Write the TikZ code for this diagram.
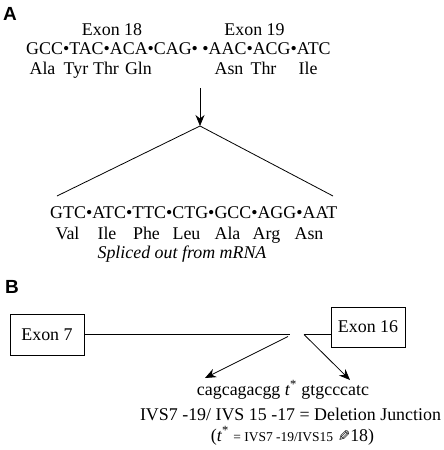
\documentclass[tikz,border=0pt]{standalone}
\usepackage{fontspec}
\usepackage{graphicx}
\setmainfont{Liberation Serif}
\newfontfamily\labfont{Liberation Sans}
\newfontfamily\symfont{DejaVu Sans}
\usetikzlibrary{arrows.meta}
\begin{document}
\begin{tikzpicture}[x=1pt,y=-1pt,
  txt/.style={inner sep=0pt,anchor=base,font=\fontsize{17.9}{20}\selectfont},
  lab/.style={inner sep=0pt,anchor=base west,font=\labfont\bfseries\fontsize{19}{21}\selectfont},
  exonbox/.style={draw,line width=0.8pt,minimum width=74pt,inner sep=0pt,font=\fontsize{17.9}{20}\selectfont},
  ln/.style={line width=0.8pt},
  arr/.style={line width=0.8pt,-{Stealth[length=11pt,width=9pt]}}]
\useasboundingbox (0,0) rectangle (444,450);
% Panel A
\node[lab] (A) at (3,20) {A};
\node[txt] (ex18) at (112,35) {Exon 18};
\node[txt] (ex19) at (254.5,35) {Exon 19};
\node[txt,anchor=base west] (seq1) at (26,54) {GCC•TAC•ACA•CAG• •AAC•ACG•ATC};
\node[txt] (a1) at (42.5,74) {Ala};
\node[txt] (a2) at (76,74) {Tyr};
\node[txt] (a3) at (106,74) {Thr};
\node[txt] (a4) at (138.5,74) {Gln};
\node[txt] (a5) at (229,74) {Asn};
\node[txt] (a6) at (263.5,74) {Thr};
\node[txt] (a7) at (308,74) {Ile};
\coordinate (vtop) at (200,88);
\coordinate (apex) at (200,126);
\coordinate (lft) at (57,196);
\coordinate (rgt) at (333,196);
\draw[arr] (vtop) -- (apex);
\draw[ln] (lft) -- (apex) -- (rgt);
\node[txt,anchor=base west] (seq2) at (50,218) {GTC•ATC•TTC•CTG•GCC•AGG•AAT};
\node[txt] (b1) at (67.5,239) {Val};
\node[txt] (b2) at (107,239) {Ile};
\node[txt] (b3) at (146.5,239) {Phe};
\node[txt] (b4) at (186.5,239) {Leu};
\node[txt] (b5) at (227.5,239) {Ala};
\node[txt] (b6) at (266.5,239) {Arg};
\node[txt] (b7) at (309,239) {Asn};
\node[txt] (spl) at (182,258) {\itshape Spliced out from mRNA};
% Panel B
\node[lab] (B) at (5,293) {B};
\node[exonbox,minimum height=41pt] (e7) at (47,334.5) {Exon 7};
\node[exonbox,minimum height=40pt] (e16) at (368,327) {Exon 16};
\coordinate (j1) at (290,334.5);
\coordinate (j2) at (304,334.5);
\coordinate (s1) at (288,336.5);
\coordinate (t1) at (205,378);
\coordinate (t2) at (350,380);
\draw[ln] (e7.east) -- (j1);
\draw[ln] (j2) -- (j2 -| e16.west);
\draw[arr] (s1) -- (t1);
\draw[arr] (j2) -- (t2);
\node[txt] (jseq) at (283,395) {cagcagacgg \textit{t}\textsuperscript{*} gtgcccatc};
\node[txt] (ivs) at (290.5,420) {IVS7 -19/ IVS 15 -17 = Deletion Junction};
\node[txt] (note) at (292.5,441) {(\textit{t}\textsuperscript{*} {\fontsize{13.5}{15}\selectfont = IVS7 -19/IVS15} {\symfont\fontsize{15}{17}\selectfont\reflectbox{✎}}18)};
\end{tikzpicture}
\end{document}
